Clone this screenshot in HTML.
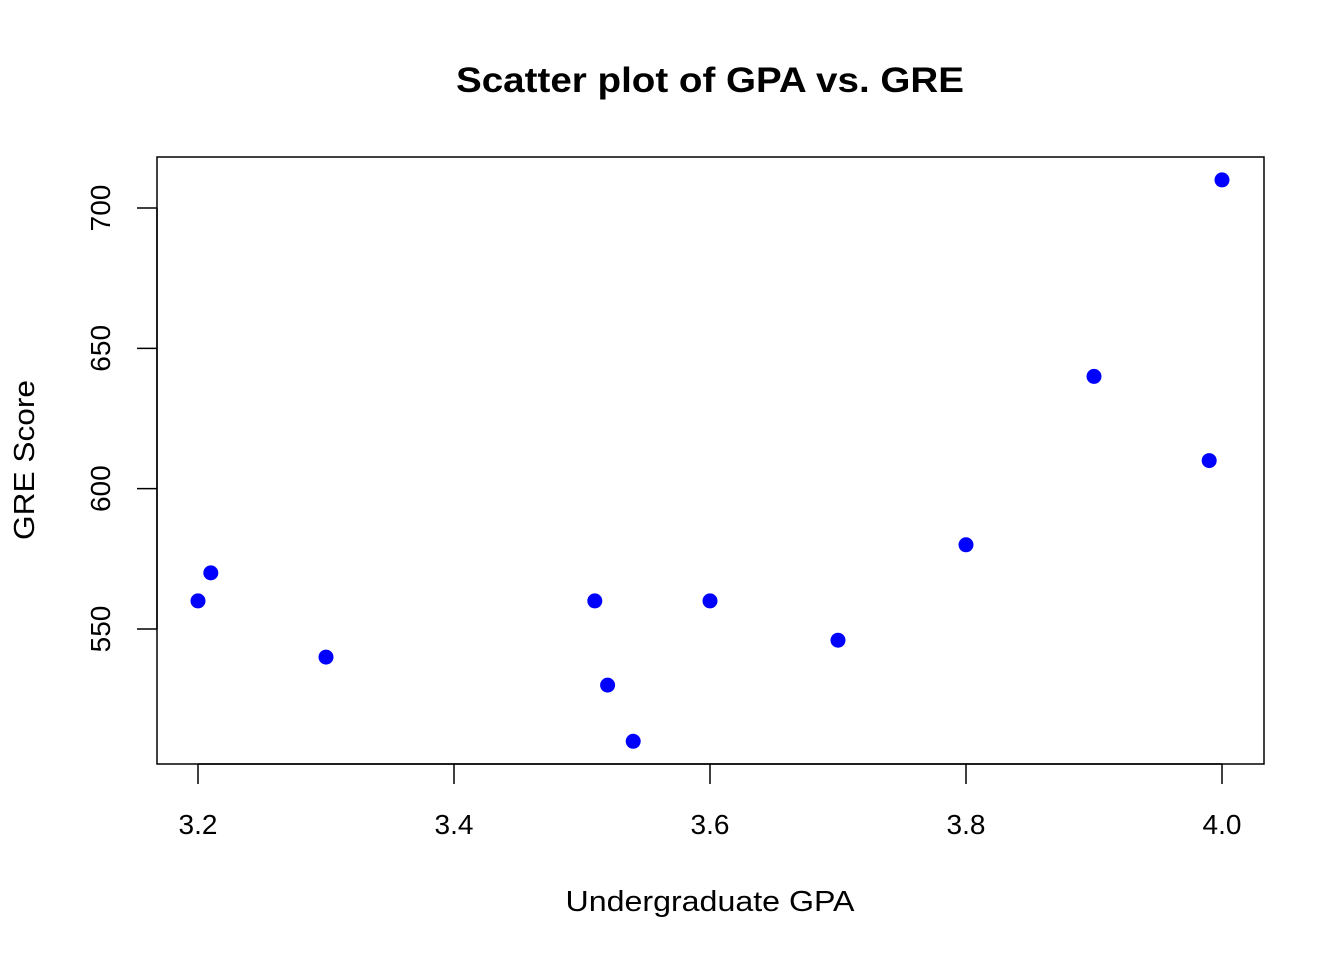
<!DOCTYPE html>
<html><head><meta charset="utf-8"><style>
html,body{margin:0;padding:0;background:#fff;}
svg text{font-family:"Liberation Sans",Arial,sans-serif;fill:#000;}
</style></head><body>
<svg id="chart" width="1344" height="960" viewBox="0 0 1344 960" xmlns="http://www.w3.org/2000/svg">
<text x="710" y="92" text-anchor="middle" font-size="35" font-weight="bold" textLength="508" lengthAdjust="spacingAndGlyphs">Scatter plot of GPA vs. GRE</text>
<rect x="157" y="157" width="1107" height="607" fill="none" stroke="#000" stroke-width="1.5"/>
<g id="xaxis"></g>
<g id="yaxis"></g>
<g id="points"></g>
<text x="710" y="911" text-anchor="middle" font-size="29" textLength="289" lengthAdjust="spacingAndGlyphs">Undergraduate GPA</text>
<text transform="translate(34,460) rotate(-90)" text-anchor="middle" font-size="29" textLength="160" lengthAdjust="spacingAndGlyphs">GRE Score</text>
</svg>
<script>
const gpa = [3.2, 3.21, 3.3, 3.51, 3.52, 3.54, 3.6, 3.7, 3.8, 3.9, 3.99, 4.0];
const gre = [560, 570, 540, 560, 530, 510, 560, 546, 580, 640, 610, 710];
const xTicks = [3.2, 3.4, 3.6, 3.8, 4.0];
const xTickLabels = ["3.2", "3.4", "3.6", "3.8", "4.0"];
const yTicks = [550, 600, 650, 700];
const yTickLabels = ["550", "600", "650", "700"];

const NS = "http://www.w3.org/2000/svg";
function xs(v){ return 198 + (v - 3.2) * 1280; }
function ys(v){ return 629 - (v - 550) * (421 / 150); }
function mk(tag, attrs, parent){
  const e = document.createElementNS(NS, tag);
  for (const k in attrs) e.setAttribute(k, attrs[k]);
  parent.appendChild(e); return e;
}
const xa = document.getElementById('xaxis');
mk('line', {x1: xs(xTicks[0]), x2: xs(xTicks[xTicks.length-1]), y1: 764, y2: 764, stroke: '#000', 'stroke-width': 1.5}, xa);
xTicks.forEach((t, i) => {
  const l = mk('line', {x1: xs(t), x2: xs(t), y1: 764, y2: 784, stroke: '#000', 'stroke-width': 1.5}, xa);
  
  
  const tx = mk('text', {x: xs(t), y: 834, 'text-anchor': 'middle', 'font-size': 28}, xa);
  tx.textContent = xTickLabels[i];
  
  
});
const ya = document.getElementById('yaxis');
mk('line', {x1: 157, x2: 157, y1: ys(yTicks[0]), y2: ys(yTicks[yTicks.length-1]), stroke: '#000', 'stroke-width': 1.5}, ya);
yTicks.forEach((t, i) => {
  const l = mk('line', {x1: 137, x2: 157, y1: ys(t), y2: ys(t), stroke: '#000', 'stroke-width': 1.5}, ya);
  
  
  const tx = mk('text', {transform: 'translate(110,' + ys(t) + ') rotate(-90)', 'text-anchor': 'middle', 'font-size': 28}, ya);
  tx.textContent = yTickLabels[i];
  
  
});
const pg = document.getElementById('points');
gpa.forEach((g, i) => {
  const c = mk('circle', {cx: xs(g), cy: ys(gre[i]), r: 7.5, fill: '#0000ff'}, pg);
  
  
});
</script>
</body></html>
